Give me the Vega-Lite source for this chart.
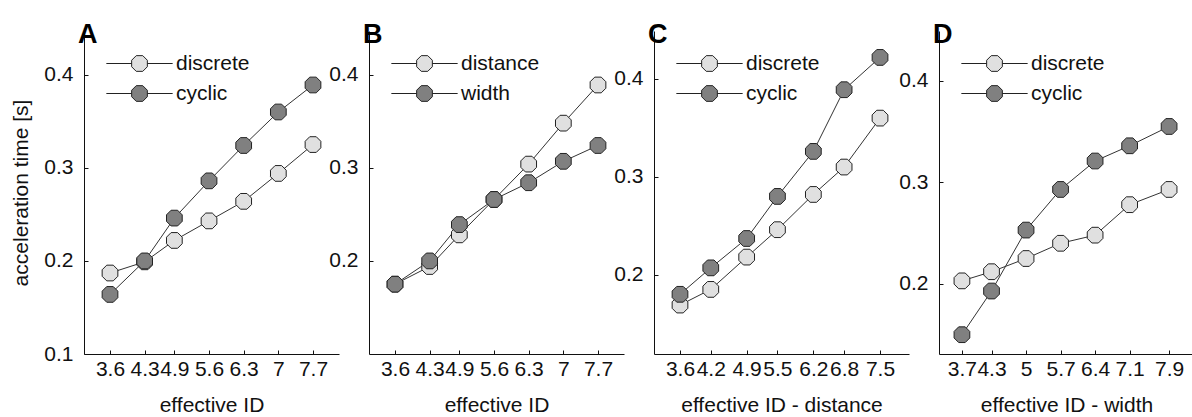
{
  "$schema": "https://vega.github.io/schema/vega-lite/v6.json",
  "background": "white",
  "padding": {"left": 10, "top": 21, "right": 0, "bottom": 0},
  "bounds": "flush",
  "spacing": 30,
  "datasets": {
    "d": [
      {"panel": "A", "series": "discrete", "x": 3.6, "y": 0.187},
      {"panel": "A", "series": "discrete", "x": 4.3, "y": 0.199},
      {"panel": "A", "series": "discrete", "x": 4.9, "y": 0.222},
      {"panel": "A", "series": "discrete", "x": 5.6, "y": 0.243},
      {"panel": "A", "series": "discrete", "x": 6.3, "y": 0.264},
      {"panel": "A", "series": "discrete", "x": 7.0, "y": 0.294},
      {"panel": "A", "series": "discrete", "x": 7.7, "y": 0.325},
      {"panel": "A", "series": "cyclic", "x": 3.6, "y": 0.164},
      {"panel": "A", "series": "cyclic", "x": 4.3, "y": 0.200},
      {"panel": "A", "series": "cyclic", "x": 4.9, "y": 0.246},
      {"panel": "A", "series": "cyclic", "x": 5.6, "y": 0.286},
      {"panel": "A", "series": "cyclic", "x": 6.3, "y": 0.324},
      {"panel": "A", "series": "cyclic", "x": 7.0, "y": 0.360},
      {"panel": "A", "series": "cyclic", "x": 7.7, "y": 0.389},
      {"panel": "B", "series": "distance", "x": 3.6, "y": 0.175},
      {"panel": "B", "series": "distance", "x": 4.3, "y": 0.194},
      {"panel": "B", "series": "distance", "x": 4.9, "y": 0.228},
      {"panel": "B", "series": "distance", "x": 5.6, "y": 0.266},
      {"panel": "B", "series": "distance", "x": 6.3, "y": 0.304},
      {"panel": "B", "series": "distance", "x": 7.0, "y": 0.348},
      {"panel": "B", "series": "distance", "x": 7.7, "y": 0.389},
      {"panel": "B", "series": "width", "x": 3.6, "y": 0.175},
      {"panel": "B", "series": "width", "x": 4.3, "y": 0.200},
      {"panel": "B", "series": "width", "x": 4.9, "y": 0.239},
      {"panel": "B", "series": "width", "x": 5.6, "y": 0.266},
      {"panel": "B", "series": "width", "x": 6.3, "y": 0.284},
      {"panel": "B", "series": "width", "x": 7.0, "y": 0.307},
      {"panel": "B", "series": "width", "x": 7.7, "y": 0.324},
      {"panel": "C", "series": "discrete", "x": 3.6, "y": 0.169},
      {"panel": "C", "series": "discrete", "x": 4.2, "y": 0.185},
      {"panel": "C", "series": "discrete", "x": 4.9, "y": 0.218},
      {"panel": "C", "series": "discrete", "x": 5.5, "y": 0.246},
      {"panel": "C", "series": "discrete", "x": 6.2, "y": 0.282},
      {"panel": "C", "series": "discrete", "x": 6.8, "y": 0.310},
      {"panel": "C", "series": "discrete", "x": 7.5, "y": 0.360},
      {"panel": "C", "series": "cyclic", "x": 3.6, "y": 0.180},
      {"panel": "C", "series": "cyclic", "x": 4.2, "y": 0.207},
      {"panel": "C", "series": "cyclic", "x": 4.9, "y": 0.237},
      {"panel": "C", "series": "cyclic", "x": 5.5, "y": 0.280},
      {"panel": "C", "series": "cyclic", "x": 6.2, "y": 0.326},
      {"panel": "C", "series": "cyclic", "x": 6.8, "y": 0.389},
      {"panel": "C", "series": "cyclic", "x": 7.5, "y": 0.422},
      {"panel": "D", "series": "discrete", "x": 3.7, "y": 0.203},
      {"panel": "D", "series": "discrete", "x": 4.3, "y": 0.212},
      {"panel": "D", "series": "discrete", "x": 5.0, "y": 0.225},
      {"panel": "D", "series": "discrete", "x": 5.7, "y": 0.240},
      {"panel": "D", "series": "discrete", "x": 6.4, "y": 0.248},
      {"panel": "D", "series": "discrete", "x": 7.1, "y": 0.278},
      {"panel": "D", "series": "discrete", "x": 7.9, "y": 0.293},
      {"panel": "D", "series": "cyclic", "x": 3.7, "y": 0.150},
      {"panel": "D", "series": "cyclic", "x": 4.3, "y": 0.193},
      {"panel": "D", "series": "cyclic", "x": 5.0, "y": 0.253},
      {"panel": "D", "series": "cyclic", "x": 5.7, "y": 0.293},
      {"panel": "D", "series": "cyclic", "x": 6.4, "y": 0.321},
      {"panel": "D", "series": "cyclic", "x": 7.1, "y": 0.336},
      {"panel": "D", "series": "cyclic", "x": 7.9, "y": 0.355}
    ]
  },
  "config": {
    "view": {"stroke": null},
    "font": "Liberation Sans",
    "axis": {
      "grid": false,
      "domainColor": "#111",
      "domainWidth": 1,
      "tickColor": "#111",
      "tickSize": -4,
      "labelFont": "Liberation Sans",
      "labelFontSize": 21,
      "labelColor": "#111",
      "titleFont": "Liberation Sans",
      "titleFontSize": 21,
      "titleFontWeight": "normal",
      "titleColor": "#111",
      "labelOverlap": false,
      "labelFlush": false
    },
    "axisX": {"labelPadding": 8, "titlePadding": 15},
    "axisY": {"labelPadding": 15, "titlePadding": 12},
    "legend": {
      "orient": "none",
      "legendX": 45,
      "legendY": 22,
      "title": null,
      "padding": 0,
      "symbolSize": 289,
      "symbolType": "M-3.9,0H-0.924M0.924,0H3.9M0.924,0.383L0.383,0.924L-0.383,0.924L-0.924,0.383L-0.924,-0.383L-0.383,-0.924L0.383,-0.924L0.924,-0.383Z",
      "symbolStrokeColor": "#222",
      "symbolStrokeWidth": 1,
      "labelFont": "Liberation Sans",
      "labelFontSize": 21,
      "labelColor": "#111",
      "labelOffset": 26,
      "rowPadding": 8
    },
    "title": {
      "font": "Liberation Sans",
      "fontSize": 27,
      "fontWeight": "bold",
      "color": "#000",
      "anchor": "start",
      "frame": "group",
      "align": "right",
      "baseline": "alphabetic",
      "offset": 0,
      "dx": -6,
      "dy": 22
    }
  },
  "resolve": {"scale": {"fill": "independent"}, "legend": {"fill": "independent"}},
  "hconcat": [
    {
      "width": 255, "height": 323,
      "title": "A",
      "data": {"name": "d"},
      "transform": [{"filter": "datum.panel === 'A'"}],
      "encoding": {
        "x": {"field": "x", "type": "quantitative",
          "scale": {"domain": [3.075, 8.225], "nice": false, "zero": false},
          "axis": {"values": [3.6, 4.3, 4.9, 5.6, 6.3, 7, 7.7], "format": ".2~g", "title": "effective ID"}},
        "y": {"field": "y", "type": "quantitative",
          "scale": {"domain": [0.1, 0.447], "nice": false, "zero": false},
          "axis": {"values": [0.1, 0.2, 0.3, 0.4], "format": ".1f", "title": "acceleration time [s]"}}
      },
      "layer": [
        {"mark": {"type": "line", "stroke": "#333", "strokeWidth": 1},
         "encoding": {"detail": {"field": "series"}}},
        {"mark": {"type": "point", "shape": "M0.924,0.383L0.383,0.924L-0.383,0.924L-0.924,0.383L-0.924,-0.383L-0.383,-0.924L0.383,-0.924L0.924,-0.383Z", "size": 289, "filled": true, "stroke": "#222", "strokeWidth": 1, "opacity": 1},
         "encoding": {"fill": {"field": "series", "type": "nominal",
           "scale": {"domain": ["discrete", "cyclic"], "range": ["#e0e0e0", "#808080"]},
           "legend": {"encode": {"symbols": {"update": {"stroke": {"value": "#222"}, "strokeWidth": {"value": 1}}}}}}}}
      ]
    },
    {
      "width": 255, "height": 323,
      "title": "B",
      "data": {"name": "d"},
      "transform": [{"filter": "datum.panel === 'B'"}],
      "encoding": {
        "x": {"field": "x", "type": "quantitative",
          "scale": {"domain": [3.075, 8.225], "nice": false, "zero": false},
          "axis": {"values": [3.6, 4.3, 4.9, 5.6, 6.3, 7, 7.7], "format": ".2~g", "title": "effective ID"}},
        "y": {"field": "y", "type": "quantitative",
          "scale": {"domain": [0.1, 0.447], "nice": false, "zero": false},
          "axis": {"values": [0.2, 0.3, 0.4], "format": ".1f", "title": null}}
      },
      "layer": [
        {"mark": {"type": "line", "stroke": "#333", "strokeWidth": 1},
         "encoding": {"detail": {"field": "series"}}},
        {"mark": {"type": "point", "shape": "M0.924,0.383L0.383,0.924L-0.383,0.924L-0.924,0.383L-0.924,-0.383L-0.383,-0.924L0.383,-0.924L0.924,-0.383Z", "size": 289, "filled": true, "stroke": "#222", "strokeWidth": 1, "opacity": 1},
         "encoding": {"fill": {"field": "series", "type": "nominal",
           "scale": {"domain": ["distance", "width"], "range": ["#e0e0e0", "#808080"]},
           "legend": {"encode": {"symbols": {"update": {"stroke": {"value": "#222"}, "strokeWidth": {"value": 1}}}}}}}}
      ]
    },
    {
      "width": 255, "height": 323,
      "title": "C",
      "data": {"name": "d"},
      "transform": [{"filter": "datum.panel === 'C'"}],
      "encoding": {
        "x": {"field": "x", "type": "quantitative",
          "scale": {"domain": [3.093, 8.065], "nice": false, "zero": false},
          "axis": {"values": [3.6, 4.2, 4.9, 5.5, 6.2, 6.8, 7.5], "format": ".2~g", "title": "effective ID - distance"}},
        "y": {"field": "y", "type": "quantitative",
          "scale": {"domain": [0.119, 0.449], "nice": false, "zero": false},
          "axis": {"values": [0.2, 0.3, 0.4], "format": ".1f", "title": null}}
      },
      "layer": [
        {"mark": {"type": "line", "stroke": "#333", "strokeWidth": 1},
         "encoding": {"detail": {"field": "series"}}},
        {"mark": {"type": "point", "shape": "M0.924,0.383L0.383,0.924L-0.383,0.924L-0.924,0.383L-0.924,-0.383L-0.383,-0.924L0.383,-0.924L0.924,-0.383Z", "size": 289, "filled": true, "stroke": "#222", "strokeWidth": 1, "opacity": 1},
         "encoding": {"fill": {"field": "series", "type": "nominal",
           "scale": {"domain": ["discrete", "cyclic"], "range": ["#e0e0e0", "#808080"]},
           "legend": {"encode": {"symbols": {"update": {"stroke": {"value": "#222"}, "strokeWidth": {"value": 1}}}}}}}}
      ]
    },
    {
      "width": 255, "height": 323,
      "title": "D",
      "data": {"name": "d"},
      "transform": [{"filter": "datum.panel === 'D'"}],
      "encoding": {
        "x": {"field": "x", "type": "quantitative",
          "scale": {"domain": [3.235, 8.405], "nice": false, "zero": false},
          "axis": {"values": [3.7, 4.3, 5, 5.7, 6.4, 7.1, 7.9], "format": ".2~g", "title": "effective ID - width"}},
        "y": {"field": "y", "type": "quantitative",
          "scale": {"domain": [0.131, 0.449], "nice": false, "zero": false},
          "axis": {"values": [0.2, 0.3, 0.4], "format": ".1f", "title": null}}
      },
      "layer": [
        {"mark": {"type": "line", "stroke": "#333", "strokeWidth": 1},
         "encoding": {"detail": {"field": "series"}}},
        {"mark": {"type": "point", "shape": "M0.924,0.383L0.383,0.924L-0.383,0.924L-0.924,0.383L-0.924,-0.383L-0.383,-0.924L0.383,-0.924L0.924,-0.383Z", "size": 289, "filled": true, "stroke": "#222", "strokeWidth": 1, "opacity": 1},
         "encoding": {"fill": {"field": "series", "type": "nominal",
           "scale": {"domain": ["discrete", "cyclic"], "range": ["#e0e0e0", "#808080"]},
           "legend": {"encode": {"symbols": {"update": {"stroke": {"value": "#222"}, "strokeWidth": {"value": 1}}}}}}}}
      ]
    }
  ]
}
